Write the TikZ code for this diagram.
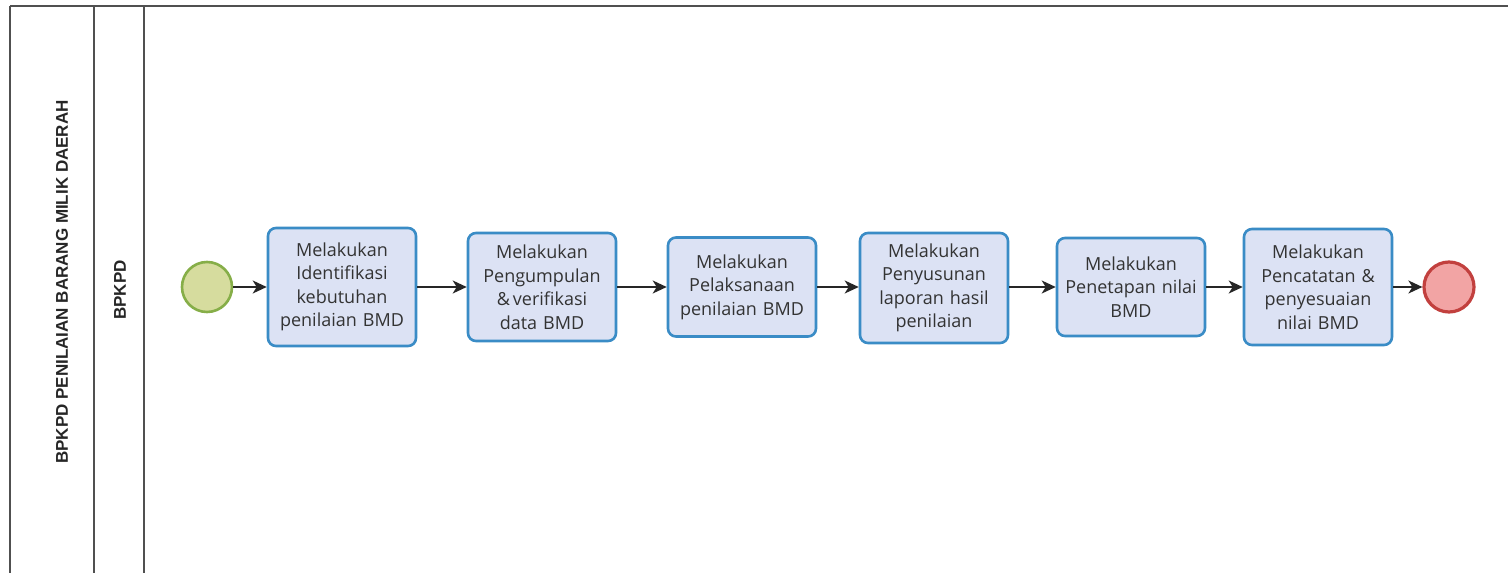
\documentclass[tikz,border=0pt]{standalone}
\usepackage{fontspec}
\setmainfont{Open Sans}
\newfontfamily\lanefont{Liberation Sans}
\usetikzlibrary{arrows.meta}
\definecolor{boxfill}{HTML}{DCE2F4}
\definecolor{boxline}{HTML}{3A8CC6}
\definecolor{startfill}{HTML}{D6DC9E}
\definecolor{startline}{HTML}{86AE48}
\definecolor{endfill}{HTML}{F2A4A4}
\definecolor{endline}{HTML}{C2403E}
\definecolor{laneline}{HTML}{505050}
\tikzset{
  task/.style={draw=boxline, fill=boxfill, line width=2.6pt, rounded corners=8pt,
    minimum width=148pt, text width=144pt, align=center, inner sep=0pt,
    font=\fontsize{18}{23.5}\selectfont, text=black!80},
  startev/.style={circle, draw=startline, fill=startfill, line width=2.6pt, minimum size=50pt, inner sep=0pt},
  endev/.style={circle, draw=endline, fill=endfill, line width=3.2pt, minimum size=50pt, inner sep=0pt},
  flow/.style={-{Stealth[length=14pt,width=13pt,inset=4pt]}, line width=1.8pt, draw=black!85},
  lane/.style={draw=laneline, line width=1.4pt},
  lanelabel/.style={rotate=90, font=\lanefont\bfseries\fontsize{17}{20}\selectfont, text=black!85}
}
\begin{document}
\begin{tikzpicture}[x=1pt,y=-1pt]
\useasboundingbox (0,0) rectangle (1508,573);
\fill[white] (0,0) rectangle (1508,573);
% lanes
\coordinate (tl) at (10,6);
\coordinate (tr) at (1508,6);
\coordinate (bl) at (10,573);
\coordinate (d1t) at (94,6);
\coordinate (d1b) at (94,573);
\coordinate (d2t) at (144,6);
\coordinate (d2b) at (144,573);
\draw[lane] (tl) -- (tr);
\draw[lane] (tl) -- (bl);
\draw[lane] (d1t) -- (d1b);
\draw[lane] (d2t) -- (d2b);
\node[lanelabel] (pool) at (62,282) {BPKPD PENILAIAN BARANG MILIK DAERAH};
\node[lanelabel] (lanename) at (120,290) {BPKPD};
% events and tasks
\node[startev] (start) at (207,287) {};
\node[task, minimum height=118pt] (t1) at (342,287) {Melakukan\\Identifikasi\\kebutuhan\\penilaian BMD};
\node[task, minimum height=108pt] (t2) at (542,287) {Melakukan\\Pengumpulan\\\&\,verifikasi\\data BMD};
\node[task, minimum height=99pt] (t3) at (742,287) {Melakukan\\Pelaksanaan\\penilaian BMD};
\node[task, minimum height=110pt] (t4) at (934,288) {Melakukan\\Penyusunan\\laporan hasil\\penilaian};
\node[task, minimum height=98pt] (t5) at (1131,287) {Melakukan\\Penetapan nilai\\BMD};
\node[task, minimum height=116pt] (t6) at (1318,287) {Melakukan\\Pencatatan \&\\penyesuaian\\nilai BMD};
\node[endev] (end) at (1449,287) {};
% flows
\draw[flow] (start) -- (start -| t1.west);
\draw[flow] (t1.east |- start) -- (t2.west |- start);
\draw[flow] (t2.east |- start) -- (t3.west |- start);
\draw[flow] (t3.east |- start) -- (t4.west |- start);
\draw[flow] (t4.east |- start) -- (t5.west |- start);
\draw[flow] (t5.east |- start) -- (t6.west |- start);
\draw[flow] (t6.east |- start) -- (end);
\end{tikzpicture}
\end{document}
